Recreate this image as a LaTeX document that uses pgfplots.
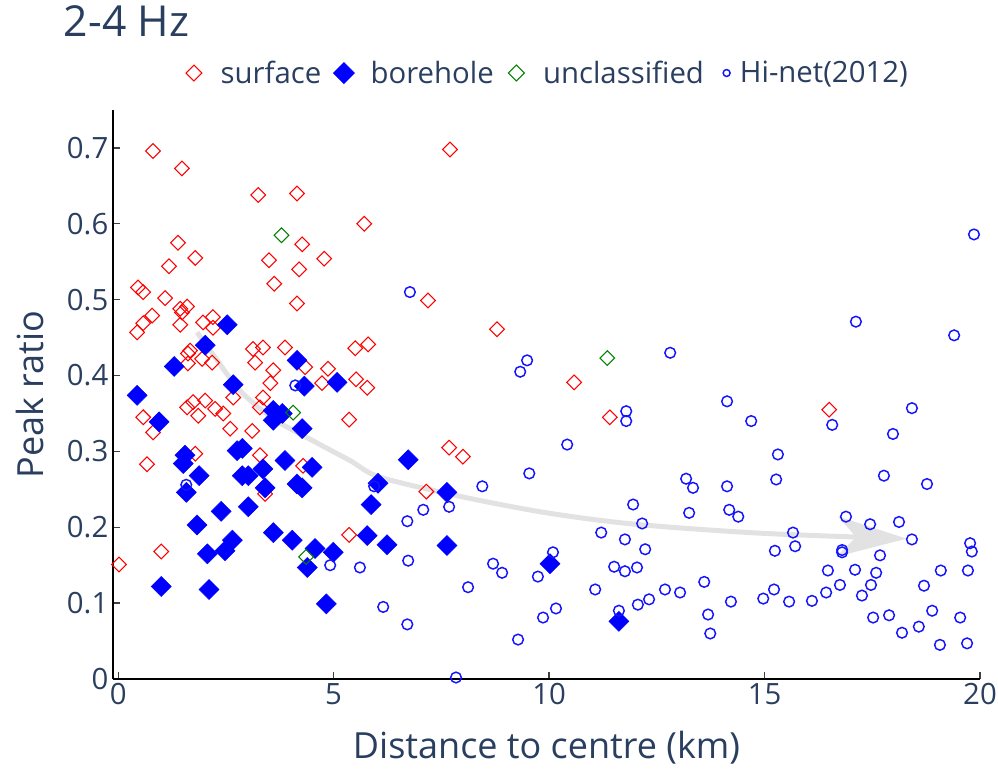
\documentclass[border=0pt]{standalone}
\usepackage{pgfplots}
\pgfplotsset{compat=1.18}
\usepackage{fontspec}
\setmainfont{Open Sans}
\usetikzlibrary{arrows.meta}
\definecolor{txt}{RGB}{42,63,95}
\definecolor{arrowgray}{RGB}{226,226,226}
\definecolor{hinet}{RGB}{20,20,255}
\definecolor{uncl}{RGB}{0,128,0}
\pgfplotsset{lgd/.style={legend image code/.code={
    \path[draw=none, fill=none] (3pt,0pt) rectangle (36pt,1pt);
    \draw[##1] plot[only marks] coordinates {(18pt,0pt)};}},
  lgdnarrow/.style={legend image code/.code={
    \path[draw=none, fill=none] (3pt,0pt) rectangle (26pt,1pt);
    \draw[##1] plot[only marks] coordinates {(18pt,0pt)};}}}

\begin{document}
\begin{tikzpicture}
\useasboundingbox (-84.75pt,-66.75pt) rectangle (663.75pt,509.25pt);
\begin{axis}[
  scale only axis,
  width=650.25pt,
  height=426.75pt,
  xmin=-0.12, xmax=20,
  ymin=0, ymax=0.75,
  axis lines*=left,
  axis line style={black, line width=1.5pt},
  xtick={0,5,10,15,20},
  ytick={0,0.1,0.2,0.3,0.4,0.5,0.6,0.7},
  yticklabel style={/pgf/number format/fixed},
  tick align=inside,
  major tick length=5.25pt,
  tick style={color=black!75, line width=1pt},
  /pgf/number format/assume math mode=true,
  tick label style={font=\fontsize{22}{26}\selectfont, color=txt},
  xlabel={Distance to centre (km)},
  ylabel={Peak ratio},
  label style={font=\fontsize{27}{32}\selectfont, color=txt},
  xlabel style={at={(axis description cs:0.5,-0.121)}, anchor=center},
  ylabel style={at={(axis description cs:-0.0957,0.5)}, anchor=center},
  title={2-4 Hz},
  title style={at={(axis description cs:-0.062,1.116)}, anchor=base west,
    font=\fontsize{32}{38}\selectfont, color=txt},
  legend columns=4,
  legend style={at={(0.495,1.065)}, anchor=center, draw=none, fill=none,
    font=\fontsize{22}{26}\selectfont, text=txt,
    /tikz/every even column/.append style={column sep=0pt}},
]
% trend arrow
\addplot[arrowgray, line width=3.75pt, smooth, no marks, forget plot,
  -{Stealth[length=52pt, width=30pt, inset=14pt]}] coordinates {
(1.83,0.457) (2.25,0.424) (2.83,0.38) (3.6,0.343) (4.52,0.314) (5.38,0.288)
(6.08,0.266) (8.0,0.24) (9.95,0.219) (12.0,0.204) (14.97,0.192) (18.3,0.185)};

% surface
\addplot[only marks, lgd, red, mark=square, mark size=3.9pt,
  mark options={rotate=45, line width=0.8pt, fill=none},
  legend image post style={mark size=4.2pt}] coordinates {
(0.81,0.696) (7.70,0.698) (1.48,0.673) (3.25,0.638) (4.15,0.640) (5.71,0.600)
(1.39,0.575) (4.27,0.573) (1.79,0.555) (1.18,0.544) (3.50,0.552) (4.78,0.554)
(4.20,0.540) (3.62,0.521) (0.46,0.516) (0.58,0.510) (1.09,0.502) (4.15,0.495)
(7.19,0.499) (1.44,0.488) (1.60,0.491) (1.48,0.483) (2.20,0.477) (1.97,0.470)
(0.79,0.479) (0.58,0.469) (0.44,0.457) (1.44,0.467) (2.20,0.463) (8.79,0.461)
(1.67,0.433) (1.62,0.429) (1.95,0.422) (2.18,0.417) (1.62,0.416) (3.13,0.435)
(3.36,0.437) (3.18,0.417) (3.87,0.437) (4.34,0.411) (3.60,0.407) (3.53,0.390)
(4.73,0.390) (4.87,0.409) (5.50,0.436) (5.80,0.441) (5.52,0.395) (5.78,0.384)
(5.36,0.342) (3.36,0.371) (3.29,0.358) (1.60,0.358) (1.74,0.365) (2.02,0.367)
(1.86,0.347) (2.25,0.356) (2.44,0.350) (2.67,0.371) (0.58,0.345) (0.81,0.325)
(2.60,0.330) (3.11,0.327) (1.79,0.297) (3.29,0.295) (0.67,0.283) (4.29,0.281)
(3.41,0.244) (7.68,0.305) (8.00,0.293) (7.15,0.247) (5.36,0.190) (0.02,0.151)
(1.00,0.168) (10.58,0.391) (11.41,0.345) (16.50,0.355)};
\addlegendentry{surface}

% borehole
\addplot[only marks, lgd, blue, mark=square*, mark size=5.3pt,
  mark options={rotate=45, draw=blue, fill=blue},
  legend image post style={mark size=5.6pt}] coordinates {
(2.53,0.467) (2.02,0.440) (1.30,0.412) (2.67,0.388) (0.44,0.374) (0.95,0.339)
(4.15,0.420) (4.32,0.386) (5.08,0.391) (3.60,0.354) (3.81,0.350) (3.60,0.341)
(4.27,0.330) (1.55,0.295) (1.51,0.284) (2.76,0.301) (2.88,0.304) (3.87,0.288)
(3.36,0.277) (2.88,0.268) (3.02,0.268) (1.88,0.268) (1.58,0.246) (4.15,0.257)
(4.27,0.252) (4.50,0.279) (3.41,0.252) (2.39,0.221) (3.02,0.227) (1.83,0.203)
(3.60,0.193) (4.04,0.183) (2.65,0.183) (2.48,0.169) (2.07,0.165) (1.00,0.122)
(2.11,0.118) (4.57,0.172) (4.99,0.167) (4.39,0.147) (4.83,0.099) (6.73,0.289)
(6.03,0.258) (5.87,0.230) (5.78,0.189) (6.24,0.177) (7.63,0.176) (7.63,0.246)
(10.02,0.152) (11.62,0.076)};
\addlegendentry{borehole}

% unclassified
\addplot[only marks, lgd, uncl, mark=square, mark size=3.9pt,
  mark options={rotate=45, line width=0.8pt, fill=none},
  legend image post style={mark size=4.2pt}] coordinates {
(3.79,0.585) (4.06,0.351) (4.36,0.161) (11.35,0.423)};
\addlegendentry{unclassified}

% Hi-net(2012)
\addplot[only marks, lgdnarrow, hinet, mark=o, mark size=4pt,
  mark options={line width=1.1pt},
  legend image post style={mark size=2.6pt}] coordinates {
(6.77,0.510) (9.49,0.420) (9.33,0.405) (12.81,0.430) (11.79,0.353) (11.79,0.340)
(14.13,0.366) (14.69,0.340) (10.42,0.309) (15.31,0.296) (13.18,0.264) (13.34,0.252)
(14.13,0.254) (15.27,0.263) (11.95,0.230) (13.25,0.219) (14.18,0.223) (14.39,0.214)
(12.16,0.205) (11.21,0.193) (11.76,0.184) (12.23,0.171) (15.24,0.169) (11.51,0.148)
(11.76,0.142) (12.04,0.147) (11.07,0.118) (11.62,0.090) (12.06,0.098) (12.32,0.105)
(12.69,0.118) (13.04,0.114) (13.60,0.128) (13.69,0.085) (13.74,0.060) (14.22,0.102)
(14.97,0.106) (15.22,0.118) (19.86,0.586) (17.12,0.471) (19.40,0.453) (16.57,0.335)
(18.42,0.357) (17.98,0.323) (17.77,0.268) (18.77,0.257) (16.89,0.214) (17.45,0.204)
(18.12,0.207) (18.42,0.184) (15.66,0.193) (15.71,0.175) (16.80,0.170) (16.80,0.167)
(17.68,0.163) (19.77,0.179) (19.81,0.168) (16.47,0.143) (17.10,0.144) (17.59,0.140)
(17.47,0.124) (16.75,0.124) (16.43,0.114) (17.26,0.110) (16.10,0.103) (15.57,0.102)
(19.09,0.143) (19.72,0.143) (18.70,0.123) (18.89,0.090) (19.54,0.081) (17.52,0.081)
(17.89,0.084) (18.19,0.061) (18.58,0.069) (19.07,0.045) (19.70,0.047) (8.45,0.254)
(9.54,0.271) (7.68,0.227) (7.08,0.223) (6.71,0.208) (6.73,0.156) (5.61,0.147)
(4.92,0.150) (6.15,0.095) (6.71,0.072) (7.84,0.002) (8.70,0.152) (8.91,0.140)
(8.12,0.121) (9.74,0.135) (10.09,0.167) (9.28,0.052) (9.86,0.081) (10.16,0.093)
(5.94,0.254) (1.58,0.256) (4.11,0.387)};
\addlegendentry{Hi-net(2012)}
\end{axis}
\end{tikzpicture}
\end{document}
